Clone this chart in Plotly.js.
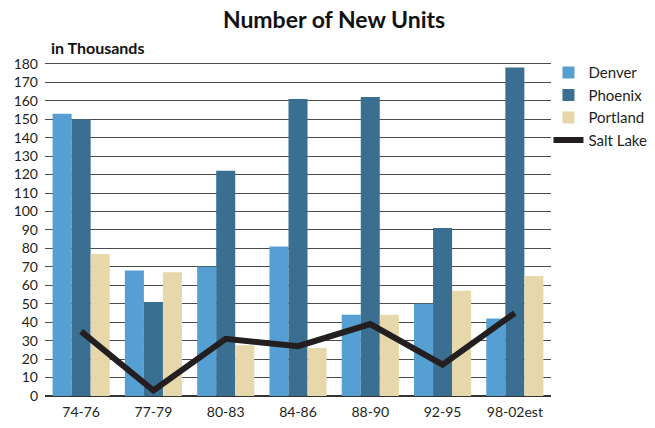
<!DOCTYPE html>
<html>
<head>
<meta charset="utf-8">
<script src="https://cdn.plot.ly/plotly-3.0.1.min.js"></script>
<style>
  html, body { margin: 0; padding: 0; background: #fff; }
  #chart { width: 655px; height: 428px; }
</style>
</head>
<body>
<div id="chart"></div>
<script>
// Periods on the x axis
const periods = ["74-76", "77-79", "80-83", "84-86", "88-90", "92-95", "98-02est"];

// New housing units, in thousands
const denver   = [153, 68, 70, 81, 44, 50, 42];
const phoenix  = [150, 51, 122, 161, 162, 91, 178];
const portland = [77, 67, 27.5, 26, 44, 57, 65];
const saltLake = [35, 3, 31, 27, 39, 17, 45];

const yTicks = [0, 10, 20, 30, 40, 50, 60, 70, 80, 90, 100, 110, 120, 130, 140, 150, 160, 170, 180];

const FONT = "Lato, 'Open Sans', sans-serif";
const INK = "#231f20";

const traces = [
  { type: "bar", name: "Denver", x: periods, y: denver,
    marker: { color: "#559fd3" } },
  { type: "bar", name: "Phoenix", x: periods, y: phoenix,
    marker: { color: "#3a6f91" } },
  { type: "bar", name: "Portland", x: periods, y: portland,
    marker: { color: "#e6d8aa" } },
  { type: "scatter", mode: "lines", name: "Salt Lake", x: periods, y: saltLake,
    line: { color: INK, width: 6 } }
];

const layout = {
  width: 655,
  height: 428,
  margin: { l: 45, r: 104, t: 62, b: 32, autoexpand: false },
  paper_bgcolor: "#fff",
  plot_bgcolor: "#fff",
  font: { family: FONT, color: INK, size: 13 },
  title: {
    text: "<b>Number of New Units</b>",
    font: { family: FONT, size: 23, color: "#111" },
    x: 0.51, xanchor: "center", y: 0.953, yanchor: "middle"
  },
  barmode: "group",
  bargap: 0.21,
  bargroupgap: 0,
  showlegend: true,
  legend: {
    x: 0.995, xanchor: "left", y: 1.017, yanchor: "top",
    font: { family: FONT, size: 15, color: INK },
    itemwidth: 30, tracegroupgap: 0,
    bgcolor: "rgba(0,0,0,0)"
  },
  xaxis: {
    type: "category",
    showgrid: false,
    zeroline: false,
    showline: false,
    ticks: "",
    tickfont: { family: FONT, size: 14, color: INK },
    ticklabelstandoff: 6
  },
  yaxis: {
    range: [0, 181],
    tickmode: "array",
    tickvals: yTicks,
    ticktext: yTicks.map(String),
    showgrid: true,
    gridcolor: "#4a4a4a",
    gridwidth: 1,
    zeroline: true,
    zerolinecolor: "#333",
    zerolinewidth: 1.5,
    showline: false,
    ticks: "",
    tickfont: { family: FONT, size: 14, color: INK },
    ticklabelstandoff: 6
  },
  annotations: [
    {
      text: "<b>in Thousands</b>",
      xref: "paper", yref: "paper",
      x: 0.008, xanchor: "left",
      y: 1.01, yanchor: "bottom",
      showarrow: false,
      font: { family: FONT, size: 16, color: "#111" }
    }
  ]
};

Plotly.newPlot("chart", traces, layout, { displayModeBar: false, staticPlot: true });
</script>
</body>
</html>
